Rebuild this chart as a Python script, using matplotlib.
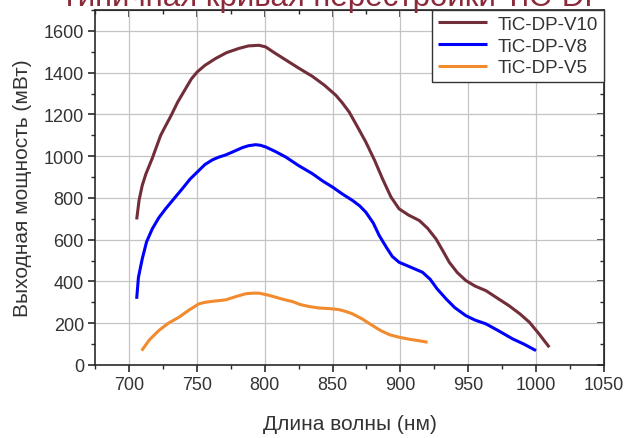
import numpy as np
import matplotlib
matplotlib.use("Agg")
import matplotlib.pyplot as plt
from matplotlib.ticker import MultipleLocator

plt.rcParams['font.family'] = ['Liberation Sans', 'DejaVu Sans']

title = "Типичная кривая перестройки TiC-DP"
xlabel = "Длина волны (нм)"
ylabel = "Выходная мощность (мВт)"

v10_x = [705.7, 707.5, 709.8, 712.5, 714.7, 717.2, 720, 723.4, 727, 730.7, 736, 741.8, 746, 750.4,
         756, 763.9, 772, 781, 788, 795.9, 800.8, 807, 815.5, 825, 835.2, 844, 852.4, 857, 862.2,
         868, 874.5, 881, 886.8, 893, 899, 906, 913.9, 920, 926.2, 931, 936, 942, 948.3, 955,
         963, 971, 980, 988, 995, 1002, 1009.7]
v10_y = [697, 790, 860, 915, 950, 990, 1040, 1100, 1145, 1190, 1260, 1324, 1370, 1404,
         1435, 1468, 1496, 1516, 1528, 1531, 1523, 1496, 1461, 1422, 1382, 1340, 1292, 1257, 1212,
         1145, 1068, 980, 892, 805, 748, 718, 692, 655, 604, 550, 492, 442, 404, 378,
         356, 322, 284, 245, 205, 150, 85]

v8_x = [705.7, 707, 709.8, 713, 717.2, 722, 727, 733, 739.3, 745, 751.6, 756, 761.4, 766, 771.3,
        777, 783.6, 788, 793.4, 797, 800.8, 808, 815.5, 825, 835.2, 843, 850, 857, 864.7,
        870, 874.5, 880, 884.4, 890, 894, 899, 907, 916.3, 922, 927, 933.6, 940, 948.3, 955,
        963, 972, 982.7, 991, 999.9]
v8_y = [317, 420, 508, 590, 652, 705, 748, 795, 844, 890, 932, 960, 982, 995, 1006,
        1022, 1041, 1050, 1055, 1052, 1044, 1022, 996, 955, 916, 880, 852, 820, 788,
        762, 732, 680, 620, 560, 520, 492, 470, 444, 410, 365, 317, 275, 236, 215,
        197, 165, 125, 100, 69]

v5_x = [709.4, 715, 722, 729, 736.9, 744, 751.6, 756, 761.4, 766, 771.3, 779, 786, 791, 795.9,
        803, 810.6, 815, 820.4, 826, 832.7, 840, 848, 854.9, 860, 864.7, 872, 879.4, 886,
        892, 899, 906, 913, 920]
v5_y = [69, 120, 165, 200, 229, 262, 293, 300, 305, 308, 312, 328, 341, 344, 344,
        334, 320, 312, 304, 290, 280, 273, 270, 265, 256, 245, 220, 189, 163,
        145, 133, 124, 117, 109]

series = [("TiC-DP-V10", v10_x, v10_y, "#722e38"),
          ("TiC-DP-V8", v8_x, v8_y, "#0000ff"),
          ("TiC-DP-V5", v5_x, v5_y, "#f28a2e")]

fig = plt.figure(figsize=(6.28, 4.39), dpi=100)
ax = fig.add_axes([95/628, 1-366/439, (604-95)/628, (366-11)/439])

for name, xs, ys, c in series:
    ax.plot(xs, ys, color=c, lw=2.2, label=name, solid_capstyle='butt',
            solid_joinstyle='round')

ax.set_xlim(675, 1050)
ax.set_ylim(0, 1700)
ax.xaxis.set_major_locator(MultipleLocator(50))
ax.xaxis.set_minor_locator(MultipleLocator(25))
ax.yaxis.set_major_locator(MultipleLocator(200))
ax.yaxis.set_minor_locator(MultipleLocator(100))
ax.grid(True, which='major', color='#c4c4c4', lw=0.9)
ax.set_axisbelow(True)

spc = '#2a2a2a'
for s in ax.spines.values():
    s.set_color(spc)
    s.set_linewidth(1.2)
ax.tick_params(which='major', direction='out', length=5, width=1.2, color=spc,
               labelsize=13, labelcolor='#333333', pad=3)
ax.tick_params(which='minor', direction='out', length=3, width=1.0, color=spc)

top = ax.secondary_xaxis('top')
top.xaxis.set_major_locator(MultipleLocator(50))
top.xaxis.set_minor_locator(MultipleLocator(25))
top.tick_params(which='major', direction='in', length=5, width=1.2, color=spc, labeltop=False)
top.tick_params(which='minor', direction='in', length=3, width=1.0, color=spc)
top.spines['top'].set_color(spc)
right = ax.secondary_yaxis('right')
right.yaxis.set_major_locator(MultipleLocator(200))
right.yaxis.set_minor_locator(MultipleLocator(100))
right.tick_params(which='major', direction='in', length=5, width=1.2, color=spc, labelright=False)
right.tick_params(which='minor', direction='in', length=3, width=1.0, color=spc)
right.spines['right'].set_color(spc)

ax.set_xlabel(xlabel, fontsize=15, color='#333333', labelpad=15)
ax.set_ylabel(ylabel, fontsize=15, color='#333333', labelpad=8)

leg = ax.legend(loc='upper right', bbox_to_anchor=(1, 1), borderaxespad=0,
                fancybox=False, framealpha=1, edgecolor='#333333', fontsize=13.5,
                handlelength=2.6, labelspacing=0.25, borderpad=0.3, handletextpad=0.6)
leg.get_frame().set_linewidth(1.0)
for t in leg.get_texts():
    t.set_color('#333333')

fig.text(333/628, 1-6/439, title, ha='center', va='baseline', fontsize=22.5, color='#8a2a3a')

fig.savefig("out.png", dpi=100)
